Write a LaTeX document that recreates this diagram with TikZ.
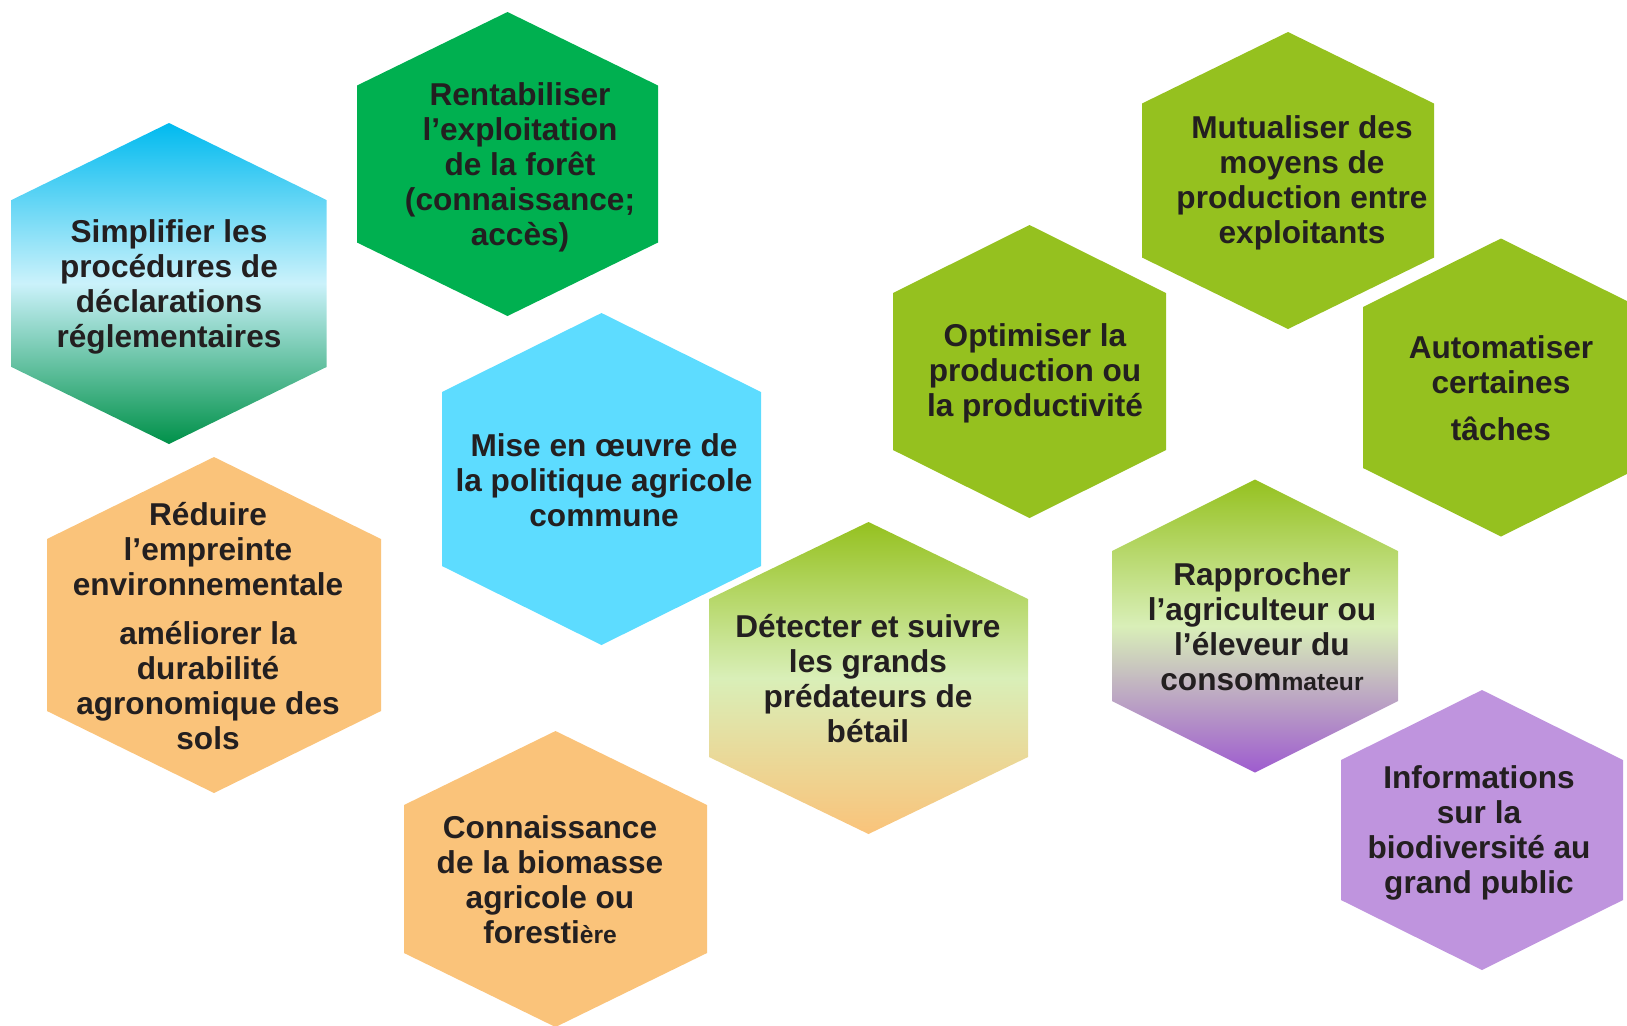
\documentclass[tikz,border=0pt]{standalone}
\usepackage{fontspec}
\setmainfont{Liberation Sans}
\usepackage{tikz}

\definecolor{texte}{HTML}{231F20}
\definecolor{vertforet}{HTML}{00B050}
\definecolor{vertpomme}{HTML}{95C11F}
\definecolor{vertpale}{HTML}{D9EFB8}
\definecolor{bleuciel}{HTML}{5DDCFF}
\definecolor{cyanvif}{HTML}{00BAEF}
\definecolor{cyanpale}{HTML}{CBF2FB}
\definecolor{vertbas}{HTML}{009149}
\definecolor{orange}{HTML}{FAC37A}
\definecolor{violet}{HTML}{BF94DE}
\definecolor{violetfonce}{HTML}{9E5BCF}

% hexagone pointe en haut : style, cx, cy, demi-largeur, demi-hauteur, demi-cote
\newcommand{\hexa}[6]{%
  \path[#1] (#2,#3-#5) -- (#2+#4,#3-#6) -- (#2+#4,#3+#6) -- (#2,#3+#5)
    -- (#2-#4,#3+#6) -- (#2-#4,#3-#6) -- cycle;}

\tikzset{
  hexlabel/.style={align=center, text=texte, inner sep=0pt,
    font=\bfseries\fontsize{15.8}{17.5}\selectfont},
}

\begin{document}
\begin{tikzpicture}[x=0.5pt,y=-0.5pt]
\useasboundingbox (0,0) rectangle (1627,1025);
\clip (0,0) rectangle (1627,1025);

% les hexagones
\hexa{top color=cyanvif, bottom color=vertbas, middle color=cyanpale}{169}{283.5}{157.5}{160.5}{83.5}
\hexa{fill=vertforet}{507.5}{164}{150.5}{152}{78.5}
\hexa{fill=bleuciel}{601.5}{479}{159.5}{166}{87}
\hexa{fill=orange}{214}{625}{167}{168}{86}
\hexa{fill=orange}{555.5}{879}{151.5}{148}{74}
\hexa{top color=vertpomme, bottom color=orange, middle color=vertpale}{868.5}{678}{159.5}{156}{79}
\hexa{fill=vertpomme}{1029.5}{371.5}{136.5}{146.5}{78.5}
\hexa{fill=vertpomme}{1288}{180.5}{146}{148.5}{77}
\hexa{fill=vertpomme}{1501}{387.5}{138}{149}{80.5}
\hexa{top color=vertpomme, bottom color=violetfonce, middle color=vertpale}{1255}{626}{143}{146.5}{75}
\hexa{fill=violet}{1482}{830}{141}{140}{70}

% les textes
\node[hexlabel] (simplifier) at (169,287) {Simplifier les\\procédures de\\déclarations\\réglementaires};
\node[hexlabel] (rentabiliser) at (520,167) {Rentabiliser\\l’exploitation\\de la forêt\\(connaissance;\\accès)};
\node[hexlabel] (pac) at (604,480) {Mise en œuvre de\\la politique agricole\\commune};
\node[hexlabel] (reduire) at (208,626) {Réduire\\l’empreinte\\environnementale\\[7pt]améliorer la\\durabilité\\agronomique des\\sols};
\node[hexlabel] (biomasse) at (550,880) {Connaissance\\de la biomasse\\agricole ou\\foresti{\fontsize{12.3}{17.5}\selectfont ère}};
\node[hexlabel] (predateurs) at (868,679) {Détecter et suivre\\les grands\\prédateurs de\\bétail};
\node[hexlabel] (optimiser) at (1035,373) {Optimiser la\\production ou\\la productivité};
\node[hexlabel] (mutualiser) at (1302,183) {Mutualiser des\\moyens de\\production entre\\exploitants};
\node[hexlabel] (automatiser) at (1501,388) {Automatiser\\certaines\\[6pt]tâches};
\node[hexlabel] (rapprocher) at (1262,627) {Rapprocher\\l’agriculteur ou\\l’éleveur du\\consom{\fontsize{12.3}{17.5}\selectfont mateur}};
\node[hexlabel] (biodiversite) at (1479,833) {Informations\\sur la\\biodiversité au\\grand public};
\end{tikzpicture}
\end{document}
